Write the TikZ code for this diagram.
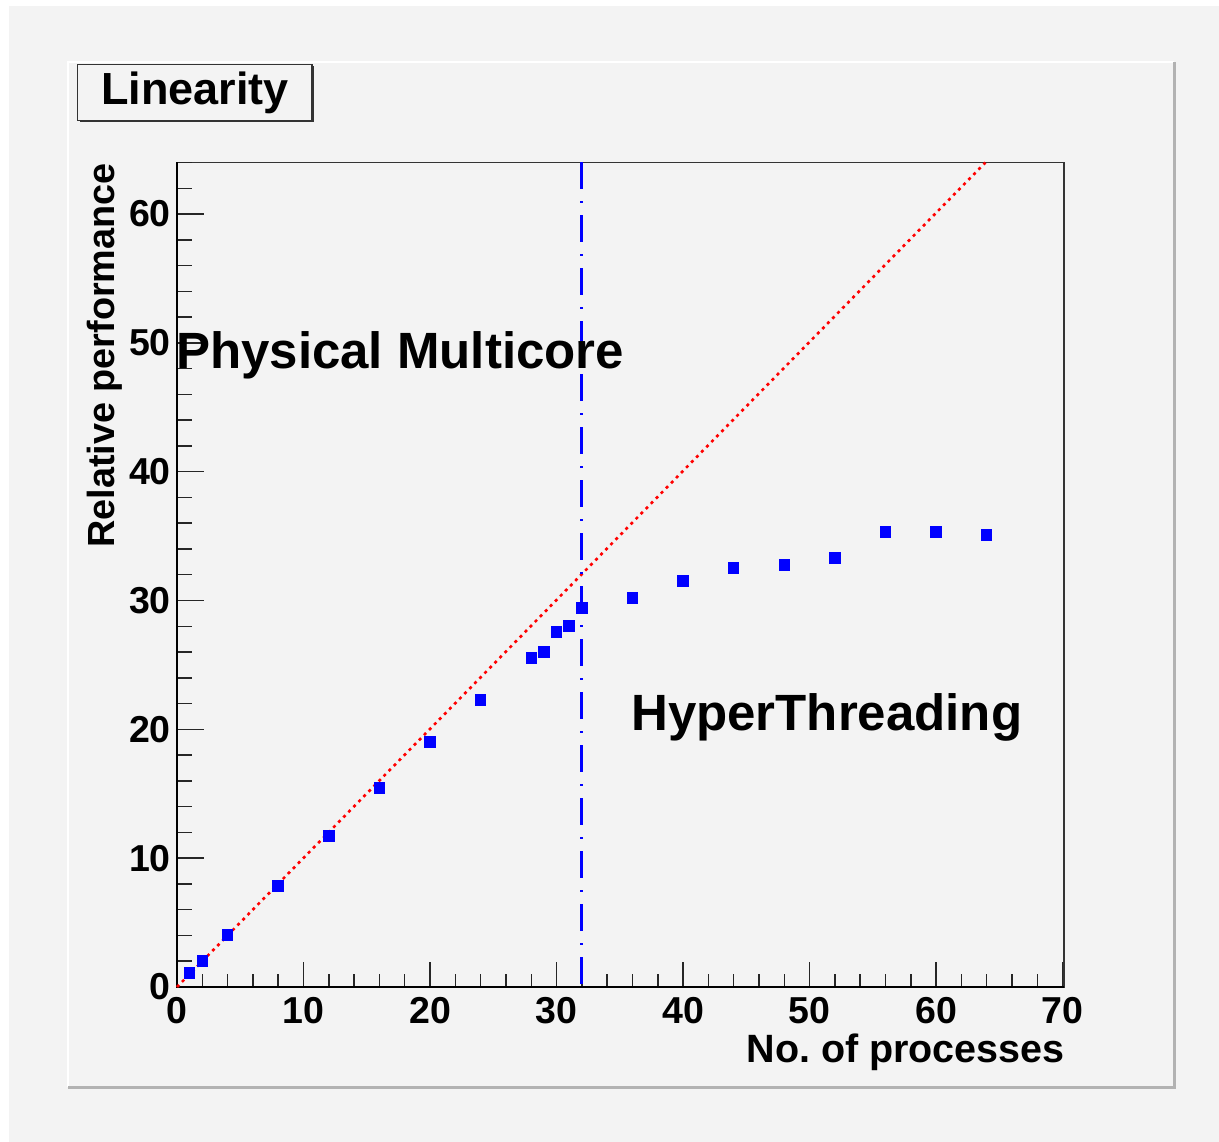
\documentclass[tikz,border=0pt]{standalone}
\usepackage{fontspec}
\setmainfont{Liberation Sans}
\usetikzlibrary{shadows}
\definecolor{padgray}{RGB}{243,243,243}
\definecolor{shadegray}{RGB}{178,178,178}
\tikzset{
  lbl/.style={inner sep=0pt, font=\bfseries\fontsize{37.5}{40}\selectfont},
  axtitle/.style={inner sep=0pt, font=\bfseries\fontsize{39.5}{42}\selectfont},
  ytitlefont/.style={inner sep=0pt, font=\bfseries\fontsize{37.8}{42}\selectfont},
  bigtxt/.style={inner sep=0pt, font=\bfseries\fontsize{51}{54}\selectfont},
  titlebox/.style={draw=black!80, line width=1.3pt, fill=padgray,
    minimum width=234.5pt, minimum height=56pt, inner sep=0pt,
    font=\bfseries\fontsize{45}{48}\selectfont,
    drop shadow={shadow xshift=2pt, shadow yshift=-2pt, fill=black!80, opacity=1}},
  mk/.style={fill=blue, draw=none, minimum size=11.5pt, inner sep=0pt},
  idealline/.style={red, line width=2.6pt, dash pattern=on 3pt off 4.2pt},
  htline/.style={blue, line width=2.8pt, dash pattern=on 27pt off 12pt on 2pt off 12pt},
}
\begin{document}
\frenchspacing
\begin{tikzpicture}[x=1pt, y=-1pt]
\useasboundingbox (0,0) rectangle (1219,1142);
% canvas
\fill[white] (0,0) rectangle (1219,1142);
\fill[padgray] (9,6) rectangle (1219,1142);
% pad bevel
\draw[white, line width=2pt] (68,1087) -- (68,62) -- (1174,62);
\draw[shadegray, line width=2.5pt] (68,1087.5) -- (1174.5,1087.5) -- (1174.5,62);
% title
\node[titlebox] (title) at (194.8,92.5) {Linearity};

% data frame: x in [0,70], y in [0,64]
\begin{scope}[shift={(177,987)}, x=12.652pt, y=12.883pt]
  \draw[black!80, line width=1.4pt] (0,0) rectangle (70.1,64);
  % x ticks
  \foreach \v in {0,2,...,70} \draw[black!85, line width=1.5pt] (\v,0) -- ++(0pt,13pt);
  \foreach \v in {0,10,...,70} \draw[black!85, line width=1.5pt] (\v,0) -- ++(0pt,25pt);
  % y ticks
  \foreach \v in {0,2,...,64} \draw[black!85, line width=1.5pt] (0,\v) -- ++(15pt,0pt);
  \foreach \v in {0,10,...,60} \draw[black!85, line width=1.5pt] (0,\v) -- ++(27pt,0pt);
  \draw[black, line width=2pt] (0,64) -- (0,0) -- (70.1,0);
  % tick labels
  \foreach \v in {0,10,...,70} \node[lbl, anchor=north] (xl\v) at ([yshift=-10pt]\v,0) {\v};
  \foreach \v in {0,10,...,60} \node[lbl, anchor=east] (yl\v) at ([xshift=-6pt]0,\v) {\v};

  % reference lines
  \coordinate (origin) at (0,0);
  \coordinate (diagEnd) at (63.9,64);
  \coordinate (htTop) at (32,64);
  \coordinate (htBot) at (32,0);
  \draw[idealline] (origin) -- (diagEnd);
  \draw[htline] (htTop) -- (htBot);

  % measurements
  \foreach \px/\py [count=\i] in {1/1.09, 2/2.02, 4/4.04, 8/7.84, 12/11.72,
      16/15.45, 20/19.02, 24/22.28, 28/25.54, 29/26.0, 30/27.56, 31/28.02,
      32/29.42, 36/30.2, 40/31.51, 44/32.52, 48/32.76, 52/33.3, 56/35.32,
      60/35.32, 64/35.09}
    \node[mk] (p\i) at (\px,\py) {};
\end{scope}

% texts
\node[axtitle, anchor=base east] (xtitle) at (1065,1062) {No. of processes};
\node[ytitlefont, anchor=base east, rotate=90] (ytitle) at (114,163) {Relative performance};
\node[bigtxt, anchor=base west] (phys) at (176,368) {Physical Multicore};
\node[bigtxt, anchor=base west] (hyper) at (631,730) {HyperThreading};
\end{tikzpicture}
\end{document}
